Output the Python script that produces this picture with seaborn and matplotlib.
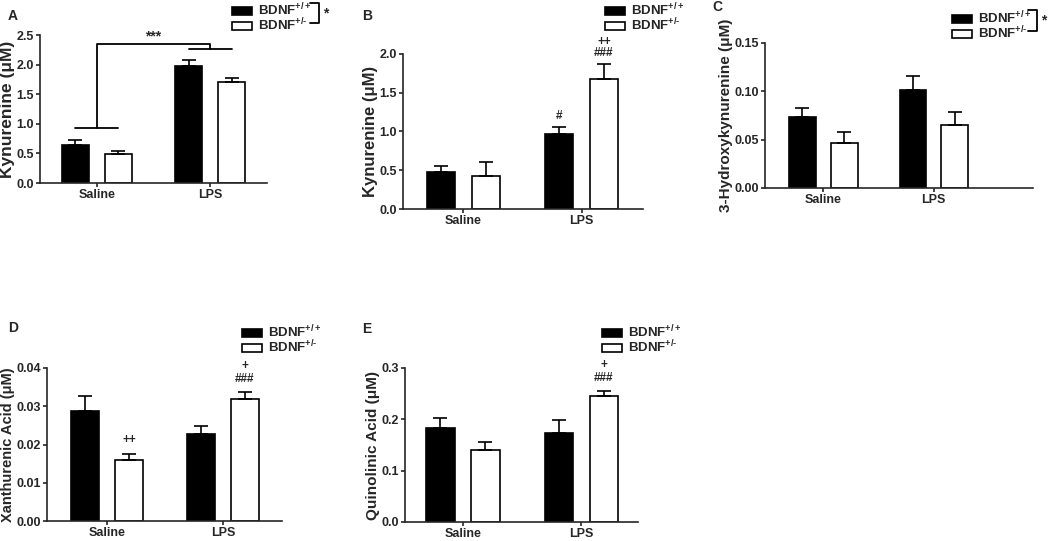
import pandas as pd
import matplotlib.pyplot as plt
import seaborn as sns
from matplotlib.patches import Patch
from matplotlib.container import BarContainer

# Valores (média e SEM)
conditions = ['Saline', 'LPS']
genotypes = ['BDNF+/+', 'BDNF+/-']

kyn_a_wt = [0.64, 1.97]
kyn_a_het = [0.49, 1.70]
kyn_a_wt_sem = [0.09, 0.10]
kyn_a_het_sem = [0.05, 0.07]

kyn_b_wt = [0.48, 0.97]
kyn_b_het = [0.43, 1.68]
kyn_b_wt_sem = [0.075, 0.085]
kyn_b_het_sem = [0.18, 0.19]

hk_wt = [0.073, 0.101]
hk_het = [0.047, 0.0655]
hk_wt_sem = [0.0095, 0.0145]
hk_het_sem = [0.011, 0.013]

xa_wt = [0.0288, 0.0228]
xa_het = [0.0159, 0.0318]
xa_wt_sem = [0.004, 0.0021]
xa_het_sem = [0.0016, 0.0019]

qa_wt = [0.1825, 0.173]
qa_het = [0.140, 0.245]
qa_wt_sem = [0.0205, 0.026]
qa_het_sem = [0.015, 0.0095]

sns.set_theme(style="ticks")
plt.rcParams['font.family'] = ['Liberation Sans', 'DejaVu Sans']
plt.rcParams['font.weight'] = 'bold'
plt.rcParams['axes.labelweight'] = 'bold'
plt.rcParams['mathtext.fontset'] = 'custom'
plt.rcParams['mathtext.rm'] = 'Liberation Sans:bold'
plt.rcParams['mathtext.bf'] = 'Liberation Sans:bold'
plt.rcParams['mathtext.default'] = 'rm'

W, H = 1050, 541
fig = plt.figure(figsize=(W / 100, H / 100), dpi=100)


def px_axes(x0, y0, x1, y1):
    return fig.add_axes([x0 / W, 1 - y1 / H, (x1 - x0) / W, (y1 - y0) / H])


def panel(ax, wt, het, wt_sem, het_sem, ylabel, ylim, yticks, fmt, xlim, label_size=11):
    df = pd.DataFrame({
        'Condition': conditions * 2,
        'Genotype': [genotypes[0]] * 2 + [genotypes[1]] * 2,
        'Value': wt + het,
    })
    sns.barplot(data=df, x='Condition', y='Value', hue='Genotype', order=conditions,
                hue_order=genotypes, palette=['black', 'white'], edgecolor='black',
                linewidth=1.2, width=0.76, gap=0.37, errorbar=None, legend=False, ax=ax)
    bars = [c for c in ax.containers if isinstance(c, BarContainer)]
    for cont, sem in zip(bars, [wt_sem, het_sem]):
        xs = [b.get_x() + b.get_width() / 2 for b in cont]
        ys = [b.get_height() for b in cont]
        ax.errorbar(xs, ys, yerr=[[0] * len(sem), sem], fmt='none', ecolor='black',
                    elinewidth=1.2, capsize=5, capthick=1.2, zorder=1)
    ax.set_ylim(*ylim)
    ax.set_yticks(yticks)
    ax.set_yticklabels([fmt.format(t) for t in yticks])
    ax.set_xlim(*xlim)
    ax.set_xlabel('')
    ax.set_ylabel(ylabel, fontsize=label_size, fontweight='bold', labelpad=1)
    ax.tick_params(labelsize=9, width=1.2, length=3, pad=1.5, direction='out')
    for s in ['top', 'right']:
        ax.spines[s].set_visible(False)
    for s in ['left', 'bottom']:
        ax.spines[s].set_linewidth(1.2)
    for lab in ax.get_xticklabels() + ax.get_yticklabels():
        lab.set_fontweight('bold')
    # centres des barres: [genotype][condition]
    return [[b.get_x() + b.get_width() / 2 for b in c] for c in bars]


def legend(ax, x, y):
    handles = [Patch(facecolor='black', edgecolor='black', linewidth=1.2),
               Patch(facecolor='white', edgecolor='black', linewidth=1.2)]
    ax.legend(handles, [r'BDNF$^{+/+}$', r'BDNF$^{+/\text{-}}$'], loc='upper left',
              bbox_to_anchor=(x / W, 1 - y / H), bbox_transform=fig.transFigure,
              frameon=False, fontsize=9.5, handlelength=1.5, handleheight=0.6,
              handletextpad=0.5, labelspacing=-0.12, borderpad=0, borderaxespad=0)


def bracket(x0, x1, y0, y1):
    fig.add_artist(plt.Line2D([x0 / W, x1 / W, x1 / W, x0 / W],
                              [1 - y0 / H, 1 - y0 / H, 1 - y1 / H, 1 - y1 / H],
                              color='black', lw=1.3))
    fig.text((x1 + 4) / W, 1 - (y0 + y1) / 2 / H, '*', fontsize=10, fontweight='bold',
             ha='left', va='center')


def note(ax, x, y, s):
    ax.text(x, y, s, ha='center', va='bottom', fontsize=8.5, fontweight='bold', clip_on=False)


# A
axA = px_axes(40, 35, 267, 183)
c = panel(axA, kyn_a_wt, kyn_a_het, kyn_a_wt_sem, kyn_a_het_sem, 'Kynurenine (μM)',
          (0, 2.5), [0, 0.5, 1.0, 1.5, 2.0, 2.5], '{:.1f}', (-0.5, 1.5), label_size=12.5)
legend(axA, 232, 2)
bracket(310, 319, 3, 23)
sal_l, sal_r = c[0][0], c[1][0]
lps_l, lps_r = c[0][1], c[1][1]
axA.plot([sal_l, sal_r], [0.93, 0.93], color='black', lw=1.3, clip_on=False)
axA.plot([lps_l, lps_r], [2.27, 2.27], color='black', lw=1.3, clip_on=False)
sal_m, lps_m = (sal_l + sal_r) / 2, (lps_l + lps_r) / 2
axA.plot([sal_m, sal_m, lps_m, lps_m], [0.93, 2.35, 2.35, 2.27], color='black', lw=1.3,
         clip_on=False)
axA.text((sal_m + lps_m) / 2, 2.36, '***', ha='center', va='bottom', fontsize=10,
         fontweight='bold')

# B
axB = px_axes(403, 54, 643, 209)
c = panel(axB, kyn_b_wt, kyn_b_het, kyn_b_wt_sem, kyn_b_het_sem, 'Kynurenine (μM)',
          (0, 2.0), [0, 0.5, 1.0, 1.5, 2.0], '{:.1f}', (-0.51, 1.52), label_size=12)
legend(axB, 605, 2)
note(axB, c[0][1], 1.12, '#')
note(axB, c[1][1], 1.93, '###')
note(axB, c[1][1], 2.08, '++')

# C
axC = px_axes(765, 43, 1033, 188)
panel(axC, hk_wt, hk_het, hk_wt_sem, hk_het_sem, '3-Hydroxykynurenine (μM)',
      (0, 0.15), [0, 0.05, 0.10, 0.15], '{:.2f}', (-0.53, 1.9), label_size=11)
legend(axC, 952, 10)
bracket(1028, 1037, 10, 31)

# D
axD = px_axes(47, 368, 282, 521)
c = panel(axD, xa_wt, xa_het, xa_wt_sem, xa_het_sem, 'Xanthurenic Acid (μM)',
          (0, 0.04), [0, 0.01, 0.02, 0.03, 0.04], '{:.2f}', (-0.52, 1.51), label_size=10.5)
legend(axD, 242, 324)
note(axD, c[1][0], 0.0195, '++')
note(axD, c[1][1], 0.0355, '###')
note(axD, c[1][1], 0.0390, '+')

# E
axE = px_axes(405, 368, 638, 522)
c = panel(axE, qa_wt, qa_het, qa_wt_sem, qa_het_sem, 'Quinolinic Acid (μM)',
          (0, 0.3), [0, 0.1, 0.2, 0.3], '{:.1f}', (-0.49, 1.48), label_size=11)
legend(axE, 602, 324)
note(axE, c[1][1], 0.268, '###')
note(axE, c[1][1], 0.295, '+')

for letter, x, y in [('A', 8, 16), ('B', 362, 16), ('C', 712, 7), ('D', 8, 328), ('E', 362, 329)]:
    fig.text(x / W, 1 - y / H, letter, fontsize=10, fontweight='bold', ha='left', va='center')

plt.savefig('out.png', dpi=100)
